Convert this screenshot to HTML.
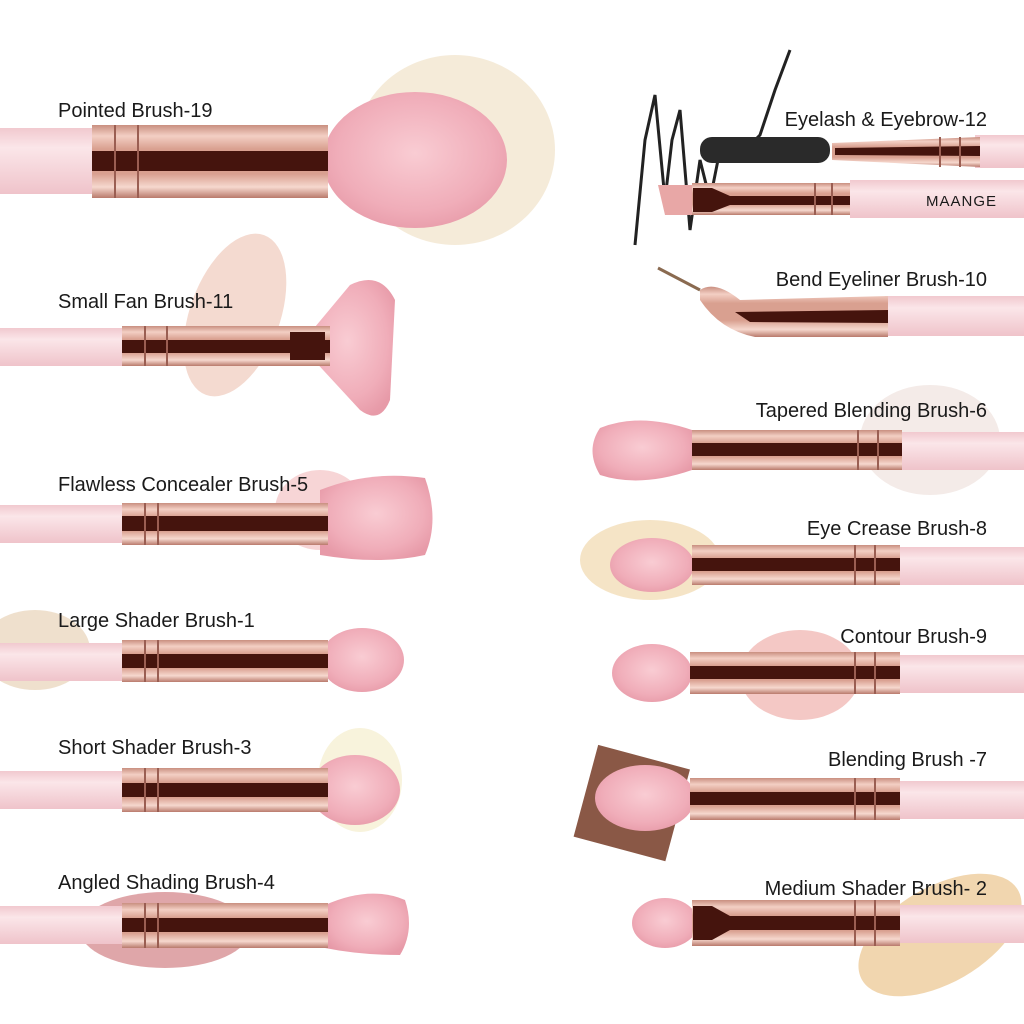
<!DOCTYPE html>
<html><head><meta charset="utf-8"><style>
html,body{margin:0;padding:0;background:#fff;}
svg{display:block}
text{font-family:"Liberation Sans",sans-serif;font-size:20px;fill:#1a1a1a;font-weight:500;}
</style></head><body>
<svg width="1024" height="1024" viewBox="0 0 1024 1024" xmlns="http://www.w3.org/2000/svg">
<defs>
<linearGradient id="fer" x1="0" y1="0" x2="0" y2="1">
<stop offset="0" stop-color="#c98f80"/><stop offset="0.15" stop-color="#f3cfc4"/><stop offset="0.33" stop-color="#d9a090"/>
<stop offset="0.67" stop-color="#d9a090"/><stop offset="0.85" stop-color="#f6d8ce"/><stop offset="1" stop-color="#b97a6c"/>
</linearGradient>
<linearGradient id="han" x1="0" y1="0" x2="0" y2="1">
<stop offset="0" stop-color="#f1c9cf"/><stop offset="0.3" stop-color="#fbe6e9"/><stop offset="1" stop-color="#efc3ca"/>
</linearGradient>
<radialGradient id="bri" cx="0.5" cy="0.45" r="0.6">
<stop offset="0" stop-color="#f9ccd3"/><stop offset="0.7" stop-color="#f0adb9"/><stop offset="1" stop-color="#e79aa8"/>
</radialGradient>
</defs>

<!-- swatches -->
<ellipse cx="455" cy="150" rx="100" ry="95" fill="#f2e4cc" opacity="0.75"/>
<ellipse cx="235" cy="315" rx="45" ry="85" fill="#f2d4c8" opacity="0.85" transform="rotate(20 235 315)"/>
<ellipse cx="320" cy="510" rx="45" ry="40" fill="#f0b3b5" opacity="0.55"/>
<ellipse cx="35" cy="650" rx="55" ry="40" fill="#e8d3b8" opacity="0.7"/>
<ellipse cx="360" cy="780" rx="42" ry="52" fill="#f8f3dc"/>
<ellipse cx="165" cy="930" rx="85" ry="38" fill="#c96a70" opacity="0.6"/>
<ellipse cx="930" cy="440" rx="70" ry="55" fill="#f4ebe8"/>
<ellipse cx="650" cy="560" rx="70" ry="40" fill="#f1d9ae" opacity="0.7"/>
<ellipse cx="800" cy="675" rx="60" ry="45" fill="#eeaaa6" opacity="0.65"/>
<rect x="585" y="755" width="95" height="95" fill="#8a5846" transform="rotate(15 630 800)"/>
<ellipse cx="940" cy="935" rx="90" ry="48" fill="#f0d2a6" opacity="0.9" transform="rotate(-30 940 935)"/>

<!-- eyeliner scribble -->
<path d="M635 245 L645 140 L655 95 L665 200 L672 140 L680 110 L690 230 L700 160 L710 200 L720 150 L745 150 L760 135 L775 90 L790 50" stroke="#222" stroke-width="3" fill="none"/>

<!-- LEFT -->
<rect x="0" y="128" width="95" height="66" fill="url(#han)"/>
<ellipse cx="415" cy="160" rx="92" ry="68" fill="url(#bri)"/>
<rect x="92" y="125" width="236" height="73" fill="url(#fer)"/>
<rect x="92" y="151" width="236" height="20" fill="#45140d"/>
<line x1="115" y1="125" x2="115" y2="198" stroke="#9a5e52" stroke-width="2"/><line x1="138" y1="125" x2="138" y2="198" stroke="#9a5e52" stroke-width="2"/>
<text x="58" y="117">Pointed Brush-19</text>

<rect x="0" y="328" width="125" height="38" fill="url(#han)"/>
<path d="M300 345 L350 285 Q380 270 395 300 L390 400 Q380 425 360 410 Z" fill="url(#bri)"/>
<rect x="122" y="326" width="208" height="40" fill="url(#fer)"/>
<rect x="122" y="340" width="208" height="13" fill="#45140d"/>
<path d="M290 332 L325 332 L325 360 L290 360 Z" fill="#45140d"/>
<line x1="145" y1="326" x2="145" y2="366" stroke="#9a5e52" stroke-width="2"/><line x1="167" y1="326" x2="167" y2="366" stroke="#9a5e52" stroke-width="2"/>
<text x="58" y="308">Small Fan Brush-11</text>

<rect x="0" y="505" width="125" height="38" fill="url(#han)"/>
<path d="M320 490 Q370 470 425 478 Q440 520 425 555 Q380 565 320 555 Z" fill="url(#bri)"/>
<rect x="122" y="503" width="206" height="42" fill="url(#fer)"/>
<rect x="122" y="516" width="206" height="15" fill="#45140d"/>
<line x1="145" y1="503" x2="145" y2="545" stroke="#9a5e52" stroke-width="2"/><line x1="158" y1="503" x2="158" y2="545" stroke="#9a5e52" stroke-width="2"/>
<text x="58" y="491">Flawless Concealer Brush-5</text>

<rect x="0" y="643" width="125" height="38" fill="url(#han)"/>
<ellipse cx="362" cy="660" rx="42" ry="32" fill="url(#bri)"/>
<rect x="122" y="640" width="206" height="42" fill="url(#fer)"/>
<rect x="122" y="654" width="206" height="14" fill="#45140d"/>
<line x1="145" y1="640" x2="145" y2="682" stroke="#9a5e52" stroke-width="2"/><line x1="158" y1="640" x2="158" y2="682" stroke="#9a5e52" stroke-width="2"/>
<text x="58" y="627">Large Shader Brush-1</text>

<rect x="0" y="771" width="125" height="38" fill="url(#han)"/>
<ellipse cx="355" cy="790" rx="45" ry="35" fill="url(#bri)"/>
<rect x="122" y="768" width="206" height="44" fill="url(#fer)"/>
<rect x="122" y="783" width="206" height="14" fill="#45140d"/>
<line x1="145" y1="768" x2="145" y2="812" stroke="#9a5e52" stroke-width="2"/><line x1="158" y1="768" x2="158" y2="812" stroke="#9a5e52" stroke-width="2"/>
<text x="58" y="754">Short Shader Brush-3</text>

<rect x="0" y="906" width="125" height="38" fill="url(#han)"/>
<path d="M325 905 Q370 885 405 900 Q415 930 400 955 Q360 955 325 948 Z" fill="url(#bri)"/>
<rect x="122" y="903" width="206" height="45" fill="url(#fer)"/>
<rect x="122" y="918" width="206" height="14" fill="#45140d"/>
<line x1="145" y1="903" x2="145" y2="948" stroke="#9a5e52" stroke-width="2"/><line x1="158" y1="903" x2="158" y2="948" stroke="#9a5e52" stroke-width="2"/>
<text x="58" y="889">Angled Shading Brush-4</text>

<!-- RIGHT -->
<text x="987" y="126" text-anchor="end">Eyelash &amp; Eyebrow-12</text>
<rect x="700" y="137" width="130" height="26" rx="12" fill="#2a2a2a"/>
<rect x="975" y="135" width="49" height="33" fill="url(#han)"/>
<path d="M832 143 L980 137 L980 167 L832 160 Z" fill="url(#fer)"/>
<path d="M835 148 L980 146 L980 156 L835 155 Z" fill="#45140d"/>
<line x1="940" y1="137" x2="940" y2="167" stroke="#9a5e52" stroke-width="2"/><line x1="960" y1="137" x2="960" y2="167" stroke="#9a5e52" stroke-width="2"/>

<rect x="850" y="180" width="174" height="38" fill="url(#han)"/>
<path d="M658 185 L692 185 L692 215 L665 215 Z" fill="#e8a7a6"/>
<rect x="692" y="183" width="158" height="32" fill="url(#fer)"/>
<path d="M693 188 L712 188 L730 196 L850 196 L850 205 L730 205 L712 212 L693 212 Z" fill="#45140d"/>
<line x1="815" y1="183" x2="815" y2="215" stroke="#9a5e52" stroke-width="2"/><line x1="832" y1="183" x2="832" y2="215" stroke="#9a5e52" stroke-width="2"/>
<text x="926" y="206" style="font-size:15px;letter-spacing:1px">MAANGE</text>

<text x="987" y="286" text-anchor="end">Bend Eyeliner Brush-10</text>
<line x1="658" y1="268" x2="700" y2="290" stroke="#8a6a50" stroke-width="3"/>
<rect x="885" y="296" width="139" height="40" fill="url(#han)"/>
<path d="M700 290 Q715 280 740 300 L888 296 L888 337 L755 337 Q720 330 700 300 Z" fill="url(#fer)"/>
<path d="M735 312 L888 310 L888 323 L750 322 Z" fill="#45140d"/>

<rect x="900" y="432" width="124" height="38" fill="url(#han)"/>
<path d="M692 430 Q640 412 600 428 Q585 450 600 475 Q640 488 692 470 Z" fill="url(#bri)"/>
<rect x="692" y="430" width="210" height="40" fill="url(#fer)"/>
<rect x="692" y="443" width="210" height="13" fill="#45140d"/>
<line x1="858" y1="430" x2="858" y2="470" stroke="#9a5e52" stroke-width="2"/><line x1="878" y1="430" x2="878" y2="470" stroke="#9a5e52" stroke-width="2"/>
<text x="987" y="417" text-anchor="end">Tapered Blending Brush-6</text>

<rect x="898" y="547" width="126" height="38" fill="url(#han)"/>
<ellipse cx="652" cy="565" rx="42" ry="27" fill="url(#bri)"/>
<rect x="692" y="545" width="208" height="40" fill="url(#fer)"/>
<rect x="692" y="558" width="208" height="13" fill="#45140d"/>
<line x1="855" y1="545" x2="855" y2="585" stroke="#9a5e52" stroke-width="2"/><line x1="875" y1="545" x2="875" y2="585" stroke="#9a5e52" stroke-width="2"/>
<text x="987" y="535" text-anchor="end">Eye Crease Brush-8</text>

<rect x="898" y="655" width="126" height="38" fill="url(#han)"/>
<ellipse cx="652" cy="673" rx="40" ry="29" fill="url(#bri)"/>
<rect x="690" y="652" width="210" height="42" fill="url(#fer)"/>
<rect x="690" y="666" width="210" height="13" fill="#45140d"/>
<line x1="855" y1="652" x2="855" y2="694" stroke="#9a5e52" stroke-width="2"/><line x1="875" y1="652" x2="875" y2="694" stroke="#9a5e52" stroke-width="2"/>
<text x="987" y="643" text-anchor="end">Contour Brush-9</text>

<rect x="898" y="781" width="126" height="38" fill="url(#han)"/>
<ellipse cx="645" cy="798" rx="50" ry="33" fill="url(#bri)"/>
<rect x="690" y="778" width="210" height="42" fill="url(#fer)"/>
<rect x="690" y="792" width="210" height="13" fill="#45140d"/>
<line x1="855" y1="778" x2="855" y2="820" stroke="#9a5e52" stroke-width="2"/><line x1="875" y1="778" x2="875" y2="820" stroke="#9a5e52" stroke-width="2"/>
<text x="987" y="766" text-anchor="end">Blending Brush -7</text>

<rect x="898" y="905" width="126" height="38" fill="url(#han)"/>
<ellipse cx="665" cy="923" rx="33" ry="25" fill="url(#bri)"/>
<rect x="692" y="900" width="208" height="46" fill="url(#fer)"/>
<path d="M693 906 L712 906 L730 916 L900 916 L900 930 L730 930 L712 940 L693 940 Z" fill="#45140d"/>
<line x1="855" y1="900" x2="855" y2="946" stroke="#9a5e52" stroke-width="2"/><line x1="875" y1="900" x2="875" y2="946" stroke="#9a5e52" stroke-width="2"/>
<text x="987" y="895" text-anchor="end">Medium Shader Brush- 2</text>
</svg>
</body></html>
